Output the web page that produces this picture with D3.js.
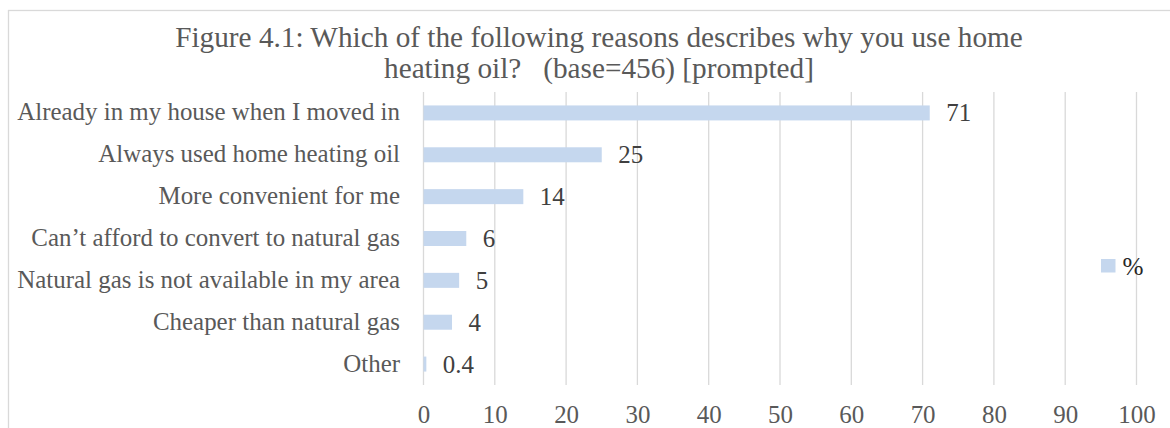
<!DOCTYPE html>
<html>
<head>
<meta charset="utf-8">
<script src="https://cdn.jsdelivr.net/npm/d3@7"></script>
<style>
  html, body { margin: 0; padding: 0; background: #ffffff; }
  svg { display: block; }
  text { font-family: "Liberation Serif", "DejaVu Serif", serif; }
</style>
</head>
<body>
<svg id="chart" width="1170" height="428"></svg>
<script>
// Reasons for using home heating oil, share of respondents (%)
const categories = [
  "Already in my house when I moved in",
  "Always used home heating oil",
  "More convenient for me",
  "Can\u2019t afford to convert to natural gas",
  "Natural gas is not available in my area",
  "Cheaper than natural gas",
  "Other"
];
const values = [71, 25, 14, 6, 5, 4, 0.4];
const valueLabels = ["71", "25", "14", "6", "5", "4", "0.4"];
const xTicks = [0, 10, 20, 30, 40, 50, 60, 70, 80, 90, 100];
const titleLines = [
  "Figure 4.1: Which of the following reasons describes why you use home",
  "heating oil?   (base=456) [prompted]"
];
const seriesName = "%";

const svg = d3.select("#chart");
const FONT = '"Liberation Serif", "DejaVu Serif", serif';

// Size a font so a string spans a given pixel width
function fitSize(str, targetWidth) {
  const t = svg.append("text")
    .style("font-family", FONT)
    .style("font-size", "100px")
    .style("white-space", "pre")
    .text(str);
  const w = t.node().getComputedTextLength();
  t.remove();
  return 100 * targetWidth / w;
}

const labelSize = fitSize(categories[0], 383);
const titleSize = fitSize(titleLines[0], 848);
const legendSize = fitSize(seriesName, 21);

// Chart frame
svg.append("rect")
  .attr("x", 8.5).attr("y", 10.5)
  .attr("width", 1300).attr("height", 600)
  .attr("fill", "#ffffff")
  .attr("stroke", "#d9d9d9")
  .attr("stroke-width", 1.3);

const plot = { left: 423.5, right: 1136.5, top: 92, bottom: 385 };

const x = d3.scaleLinear().domain([0, 100]).range([plot.left, plot.right]);
const y = d3.scaleBand().domain(categories).range([plot.top, plot.bottom]).padding(0);
const barHeight = 15;

// Vertical gridlines
svg.append("g")
  .selectAll("line")
  .data(xTicks)
  .join("line")
  .attr("x1", d => x(d)).attr("x2", d => x(d))
  .attr("y1", plot.top).attr("y2", plot.bottom)
  .attr("stroke", "#d9d9d9")
  .attr("stroke-width", 1.3);

// Bars
svg.append("g")
  .selectAll("rect")
  .data(values)
  .join("rect")
  .attr("x", x(0))
  .attr("y", (d, i) => y(categories[i]) + y.bandwidth() / 2 - barHeight / 2)
  .attr("width", d => x(d) - x(0))
  .attr("height", barHeight)
  .attr("fill", "#c5d7ee");

// Value labels
svg.append("g")
  .selectAll("text")
  .data(values)
  .join("text")
  .attr("x", d => x(d) + 16.5)
  .attr("y", (d, i) => y(categories[i]) + y.bandwidth() / 2 + 8.5)
  .style("font-size", labelSize + "px")
  .attr("fill", "#404040")
  .text((d, i) => valueLabels[i]);

// Category axis labels
svg.append("g")
  .selectAll("text")
  .data(categories)
  .join("text")
  .attr("x", 400)
  .attr("y", d => y(d) + y.bandwidth() / 2 + 7.5)
  .attr("text-anchor", "end")
  .style("font-size", labelSize + "px")
  .attr("fill", "#595959")
  .text(d => d);

// Value axis
const xAxis = svg.append("g")
  .attr("transform", `translate(0,${plot.bottom})`)
  .call(d3.axisBottom(x).tickValues(xTicks).tickSize(0).tickFormat(d3.format("d")));
xAxis.select(".domain").remove();
xAxis.selectAll("text")
  .attr("y", 37.5)
  .attr("dy", 0)
  .style("font-family", FONT)
  .style("font-size", labelSize + "px")
  .attr("fill", "#595959");

// Title
svg.append("g")
  .selectAll("text")
  .data(titleLines)
  .join("text")
  .attr("x", 599)
  .attr("y", (d, i) => 47 + i * 31)
  .attr("text-anchor", "middle")
  .style("white-space", "pre")
  .style("font-size", titleSize + "px")
  .attr("fill", "#595959")
  .text(d => d);

// Legend
const legend = svg.append("g");
legend.append("rect")
  .attr("x", 1101).attr("y", 259)
  .attr("width", 14.5).attr("height", 13.5)
  .attr("fill", "#c5d7ee");
legend.append("text")
  .attr("x", 1122.5).attr("y", 275)
  .style("font-size", legendSize + "px")
  .attr("fill", "#262626")
  .text(seriesName);
</script>
</body>
</html>
